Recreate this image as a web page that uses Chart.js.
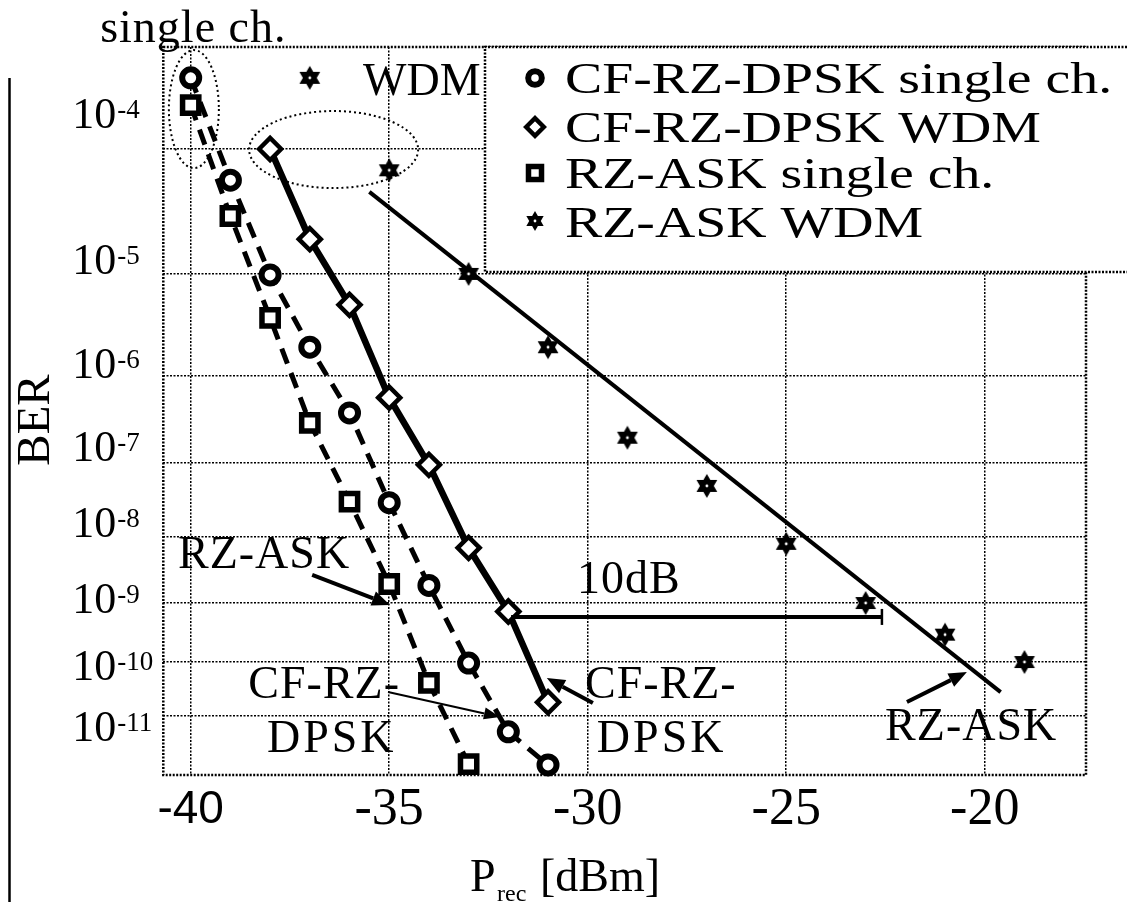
<!DOCTYPE html>
<html>
<head>
<meta charset="utf-8">
<script src="https://cdn.jsdelivr.net/npm/chart.js@4.4.1/dist/chart.umd.min.js"></script>
<style>
  html, body { margin: 0; padding: 0; background: #fff; }
  #wrap { width: 1128px; height: 902px; position: relative; }
  canvas { display: block; }
</style>
</head>
<body>
<div id="wrap"><canvas id="c" width="1128" height="902"></canvas></div>
<script>
// ---------------- data (received power in dBm, BER) ----------------
const xTicks = [-40, -35, -30, -25, -20];
const yTickExponents = [-4, -5, -6, -7, -8, -9, -10, -11];

const powerDpskSingle = [-40, -39, -38, -37, -36, -35, -34, -33, -32, -31];
const berDpskSingle   = [3.0e-4, 5.9e-5, 9.8e-6, 2.0e-6, 3.9e-7, 3.0e-8, 1.9e-9, 9.6e-11, 4.7e-12, 9.6e-13];

const powerDpskWdm = [-38, -37, -36, -35, -34, -33, -32, -31];
const berDpskWdm   = [1.0e-4, 2.0e-5, 5.2e-6, 5.8e-7, 9.3e-8, 7.0e-9, 7.3e-10, 1.8e-11];

const powerAskSingle = [-40, -39, -38, -37, -36, -35, -34, -33];
const berAskSingle   = [2.0e-4, 3.1e-5, 3.9e-6, 3.0e-7, 3.1e-8, 2.0e-9, 4.2e-11, 1.0e-12];

const powerAskWdm = [-37, -35, -33, -31, -29, -27, -25, -23, -21, -19];
const berAskWdm   = [3.0e-4, 7.0e-5, 1.0e-5, 2.0e-6, 2.0e-7, 5.0e-8, 8.0e-9, 1.0e-9, 3.0e-10, 1.0e-10];

const powerAskWdmFit = [-35.5, -19.6];
const berAskWdmFit   = [4.8e-5, 2.8e-11];

const seriesLabels = ['CF-RZ-DPSK single ch.', 'CF-RZ-DPSK WDM', 'RZ-ASK single ch.', 'RZ-ASK WDM'];

// ---------------- helpers ----------------
const SERIF = '"Liberation Serif", "Times New Roman", Times, serif';
const SANS = '"Liberation Sans", Arial, sans-serif';
// BER axis: y = log10(-log10(BER))
const toY = ber => Math.log10(-Math.log10(ber));
const pts = (xs, bers) => xs.map((x, i) => ({ x: x, y: toY(bers[i]) }));

function hexagram(r) {
  const s = Math.ceil(r * 2 + 4);
  const c = document.createElement('canvas');
  c.width = s; c.height = s;
  const g = c.getContext('2d');
  const cx = s / 2, cy = s / 2;
  g.fillStyle = '#000';
  for (let t = 0; t < 2; t++) {
    g.beginPath();
    for (let k = 0; k < 3; k++) {
      const a = -Math.PI / 2 + t * Math.PI + k * 2 * Math.PI / 3;
      const px = cx + r * Math.cos(a), py = cy + r * Math.sin(a);
      if (k) g.lineTo(px, py); else g.moveTo(px, py);
    }
    g.closePath(); g.fill();
  }
  g.fillStyle = '#fff';
  g.beginPath(); g.arc(cx, cy, 1.4, 0, 2 * Math.PI); g.fill();
  return c;
}
const starImg = hexagram(12);
const starImgSmall = hexagram(10);

// ---------------- styling of annotations (data coords: dBm, -log10 BER) ----------------
const Y_LABEL_SHIFT = [-21, 0, 2, -1, 0, 10, 18, 26];
const ELLIPSES = [
  { x: -39.92, n: 3.725, rx: 25, ry: 59 },
  { x: -36.40, n: 4.004, rx: 84.5, ry: 38.5 }
];
const ARROWS = [
  { from: [-36.94, 8.56], to: [-34.98, 9.03], w: 4, hl: 18, hw: 15 },
  { from: [-35.03, 10.55], to: [-32.21, 11.03], w: 2, hl: 16, hw: 12 },
  { from: [-29.87, 10.76], to: [-31.03, 10.29], w: 4, hl: 18, hw: 15 },
  { from: [-21.96, 10.74], to: [-20.45, 10.18], w: 4, hl: 18, hw: 15 }
];
const TEXTS = [
  { t: 'WDM', x: -35.66, n: 3.633, sp: 0 },
  { t: 'RZ-ASK', x: -40.32, n: 8.453, sp: 1 },
  { t: 'CF-RZ-', x: -38.55, n: 10.66, sp: 1 },
  { t: 'DPSK', x: -38.08, n: 11.742, sp: 3 },
  { t: 'CF-RZ-', x: -30.07, n: 10.66, sp: 1 },
  { t: 'DPSK', x: -29.77, n: 11.742, sp: 3 },
  { t: '10dB', x: -30.27, n: 8.839, sp: 1 },
  { t: 'RZ-ASK', x: -22.51, n: 11.493, sp: 1 },
  { t: 'single ch.', x: -42.28, n: 3.305, sp: 1 }
];
const GAP_BAR = { from: -31.93, to: -22.59, n: 9.226 };

function arrow(ctx, x1, y1, x2, y2, w, hl, hw) {
  const ang = Math.atan2(y2 - y1, x2 - x1);
  const bx = x2 - hl * Math.cos(ang), by = y2 - hl * Math.sin(ang);
  ctx.lineWidth = w;
  ctx.beginPath(); ctx.moveTo(x1, y1); ctx.lineTo(bx, by); ctx.stroke();
  ctx.beginPath();
  ctx.moveTo(x2, y2);
  ctx.lineTo(bx + hw / 2 * Math.sin(ang), by - hw / 2 * Math.cos(ang));
  ctx.lineTo(bx - hw / 2 * Math.sin(ang), by + hw / 2 * Math.cos(ang));
  ctx.closePath(); ctx.fill();
}

function drawMarker(ctx, ds, x, y, scale) {
  const opts = {
    pointStyle: ds.pointStyle === starImg ? starImgSmall : ds.pointStyle,
    radius: ds.pointRadius * scale,
    rotation: 0,
    borderWidth: ds.pointBorderWidth
  };
  ctx.save();
  ctx.setLineDash([]);
  ctx.fillStyle = ds.pointBackgroundColor || '#fff';
  ctx.strokeStyle = '#000';
  ctx.lineWidth = ds.pointBorderWidth || 1;
  if (Chart.helpers && Chart.helpers.drawPoint) {
    Chart.helpers.drawPoint(ctx, opts, x, y);
  }
  ctx.restore();
}

const decor = {
  id: 'decor',
  afterDraw(chart) {
    const ctx = chart.ctx, a = chart.chartArea;
    const xs = chart.scales.x, ys = chart.scales.y;
    const X = v => xs.getPixelForValue(v);
    const Y = n => ys.getPixelForValue(Math.log10(n));
    ctx.save();
    ctx.strokeStyle = '#000'; ctx.fillStyle = '#000';

    // dotted frame
    ctx.lineWidth = 2.5; ctx.setLineDash([2, 1.5]);
    ctx.strokeRect(a.left, a.top, a.right - a.left, a.bottom - a.top);

    // dotted ellipses
    ctx.lineWidth = 2; ctx.setLineDash([2, 3]);
    ELLIPSES.forEach(e => {
      ctx.beginPath();
      ctx.ellipse(X(e.x), Y(e.n), e.rx, e.ry, 0, 0, 2 * Math.PI);
      ctx.stroke();
    });
    ctx.setLineDash([]);

    // arrows
    ARROWS.forEach(r => arrow(ctx, X(r.from[0]), Y(r.from[1]), X(r.to[0]), Y(r.to[1]), r.w, r.hl, r.hw));

    // 10 dB bar
    const by = Y(GAP_BAR.n);
    ctx.lineWidth = 4;
    ctx.beginPath(); ctx.moveTo(X(GAP_BAR.from), by); ctx.lineTo(X(GAP_BAR.to), by); ctx.stroke();
    ctx.lineWidth = 2.5;
    ctx.beginPath(); ctx.moveTo(X(GAP_BAR.to), by - 8); ctx.lineTo(X(GAP_BAR.to), by + 8); ctx.stroke();

    // annotation texts
    ctx.textAlign = 'left'; ctx.textBaseline = 'alphabetic';
    ctx.font = '46px ' + SERIF;
    TEXTS.forEach(t => {
      ctx.letterSpacing = t.sp + 'px';
      ctx.fillText(t.t, X(t.x), Y(t.n));
    });
    ctx.letterSpacing = '0px';

    // legend box
    const lx = 485, ly = a.top, lr = 1127, lb = 272;
    ctx.fillStyle = '#fff';
    ctx.fillRect(lx, ly, lr - lx, lb - ly);
    ctx.strokeStyle = '#000'; ctx.fillStyle = '#000';
    ctx.lineWidth = 2.5; ctx.setLineDash([2, 1.5]);
    ctx.beginPath();
    ctx.moveTo(lr, ly); ctx.lineTo(lx, ly); ctx.lineTo(lx, lb); ctx.lineTo(lr, lb);
    ctx.stroke();
    ctx.setLineDash([]);
    const legendMarkerY = [78, 127, 173, 221];
    const legendBaseY = [93, 142, 188, 237];
    const dsList = chart.data.datasets.filter(d => d.label);
    dsList.forEach((ds, i) => {
      drawMarker(ctx, ds, 535, legendMarkerY[i], 0.8);
      ctx.save();
      ctx.fillStyle = '#000';
      ctx.font = '45px ' + SERIF;
      ctx.textAlign = 'left'; ctx.textBaseline = 'alphabetic';
      ctx.translate(565, legendBaseY[i]);
      ctx.scale(1.24, 1);
      ctx.fillText(ds.label, 0, 0);
      ctx.restore();
    });

    // y tick labels 10^-n
    ys.ticks.forEach((t, i) => {
      const py = ys.getPixelForValue(t.value);
      const n = Math.round(Math.pow(10, t.value));
      const base = py + (Y_LABEL_SHIFT[i] || 0);
      const lx0 = a.left - 91;
      ctx.font = '44px ' + SERIF;
      ctx.fillText('10', lx0, base);
      const w = ctx.measureText('10').width;
      ctx.font = '27px ' + SERIF;
      ctx.fillText('-' + n, lx0 + w + 1, base - 10);
    });

    // axis titles
    ctx.save();
    ctx.translate(37, (a.top + a.bottom) / 2 + 9);
    ctx.rotate(-Math.PI / 2);
    ctx.font = '47px ' + SERIF;
    ctx.textAlign = 'center'; ctx.textBaseline = 'middle';
    ctx.fillText('BER', 0, 0);
    ctx.restore();

    ctx.textAlign = 'left'; ctx.textBaseline = 'alphabetic';
    ctx.font = '46px ' + SERIF;
    ctx.fillText('P', 470, 891);
    ctx.font = '24px ' + SERIF;
    ctx.fillText('rec', 497, 901);
    ctx.font = '46px ' + SERIF;
    ctx.fillText('[dBm]', 540, 891);

    // left vertical rule
    ctx.lineWidth = 2.5;
    ctx.beginPath(); ctx.moveTo(9.5, 78); ctx.lineTo(9.5, 902); ctx.stroke();

    ctx.restore();
  }
};

const datasets = [
  {
    label: seriesLabels[0],
    data: pts(powerDpskSingle, berDpskSingle),
    borderColor: '#000', borderWidth: 5, borderDash: [16, 10],
    pointStyle: 'circle', pointRadius: 8.5, pointBorderWidth: 6,
    pointBackgroundColor: '#fff', pointBorderColor: '#000',
    fill: false, tension: 0, clip: false
  },
  {
    label: seriesLabels[1],
    data: pts(powerDpskWdm, berDpskWdm),
    borderColor: '#000', borderWidth: 6.5,
    pointStyle: 'rectRot', pointRadius: 11, pointBorderWidth: 4.5,
    pointBackgroundColor: '#fff', pointBorderColor: '#000',
    fill: false, tension: 0, clip: false
  },
  {
    label: seriesLabels[2],
    data: pts(powerAskSingle, berAskSingle),
    borderColor: '#000', borderWidth: 5, borderDash: [16, 10],
    pointStyle: 'rect', pointRadius: 11.5, pointBorderWidth: 5.5,
    pointBackgroundColor: '#fff', pointBorderColor: '#000',
    fill: false, tension: 0, clip: false
  },
  {
    label: seriesLabels[3],
    data: pts(powerAskWdm, berAskWdm),
    showLine: false,
    pointStyle: starImg, pointRadius: 12, pointBorderWidth: 0,
    pointBackgroundColor: '#000', pointBorderColor: '#000',
    clip: false
  },
  {
    label: '',
    data: pts(powerAskWdmFit, berAskWdmFit),
    borderColor: '#000', borderWidth: 4,
    pointRadius: 0, fill: false, tension: 0, clip: false
  }
];

new Chart(document.getElementById('c'), {
  type: 'line',
  data: { datasets: datasets },
  plugins: [decor],
  options: {
    responsive: false,
    animation: false,
    events: [],
    layout: { padding: { left: 0, top: 47, right: 42, bottom: 0 } },
    plugins: { legend: { display: false }, tooltip: { enabled: false }, title: { display: false } },
    scales: {
      x: {
        type: 'linear',
        min: -40.69, max: -17.45,
        afterBuildTicks: s => { s.ticks = xTicks.map(v => ({ value: v })); },
        afterFit: s => { s.height = 127; },
        grid: { color: '#000', lineWidth: 1.5, drawTicks: false },
        border: { display: false, dash: [2, 1.5] },
        ticks: {
          padding: 4,
          color: '#000',
          maxRotation: 0,
          autoSkip: false,
          callback: v => String(v),
          font: ctx => (ctx.tick && ctx.tick.value === -40)
            ? { family: SANS, size: 46, lineHeight: 1.2 * 52 / 46 }
            : { family: SERIF, size: 52, lineHeight: 1.2 }
        }
      },
      y: {
        type: 'linear',
        reverse: true,
        min: Math.log10(3.334), max: Math.log10(12.235),
        afterBuildTicks: s => { s.ticks = yTickExponents.map(e => ({ value: Math.log10(-e) })); },
        afterFit: s => { s.width = 163.3; },
        grid: { color: '#000', lineWidth: 1.5, drawTicks: false },
        border: { display: false, dash: [2, 1.5] },
        ticks: { display: false }
      }
    }
  }
});
</script>
</body>
</html>
